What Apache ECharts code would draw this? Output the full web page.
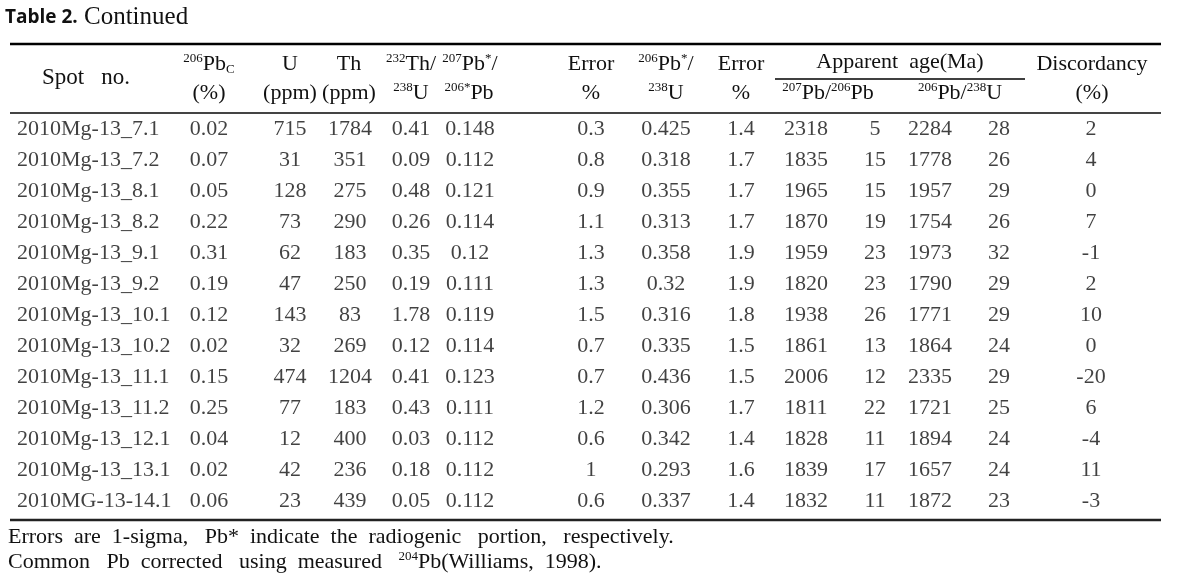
<!DOCTYPE html>
<html>
<head>
<meta charset="utf-8">
<script src="https://cdn.jsdelivr.net/npm/echarts@6/dist/echarts.min.js"></script>
<style>
html,body{margin:0;padding:0;background:#fff;}
#chart{width:1179px;height:583px;}
</style>
</head>
<body>
<div id="chart"></div>
<script>
// ---- data (cell contents) ----
const spots = ['2010Mg-13_7.1','2010Mg-13_7.2','2010Mg-13_8.1','2010Mg-13_8.2','2010Mg-13_9.1','2010Mg-13_9.2','2010Mg-13_10.1','2010Mg-13_10.2','2010Mg-13_11.1','2010Mg-13_11.2','2010Mg-13_12.1','2010Mg-13_13.1','2010MG-13-14.1'];
const pbC = [0.02,0.07,0.05,0.22,0.31,0.19,0.12,0.02,0.15,0.25,0.04,0.02,0.06];
const uPpm = [715,31,128,73,62,47,143,32,474,77,12,42,23];
const thPpm = [1784,351,275,290,183,250,83,269,1204,183,400,236,439];
const thU = [0.41,0.09,0.48,0.26,0.35,0.19,1.78,0.12,0.41,0.43,0.03,0.18,0.05];
const pb207_206 = [0.148,0.112,0.121,0.114,0.12,0.111,0.119,0.114,0.123,0.111,0.112,0.112,0.112];
const err207_206 = [0.3,0.8,0.9,1.1,1.3,1.3,1.5,0.7,0.7,1.2,0.6,1,0.6];
const pb206_238 = [0.425,0.318,0.355,0.313,0.358,0.32,0.316,0.335,0.436,0.306,0.342,0.293,0.337];
const err206_238 = [1.4,1.7,1.7,1.7,1.9,1.9,1.8,1.5,1.5,1.7,1.4,1.6,1.4];
const age207_206 = [2318,1835,1965,1870,1959,1820,1938,1861,2006,1811,1828,1839,1832];
const ageErr207_206 = [5,15,15,19,23,23,26,13,12,22,11,17,11];
const age206_238 = [2284,1778,1957,1754,1973,1790,1771,1864,2335,1721,1894,1657,1872];
const ageErr206_238 = [28,26,29,26,32,29,29,24,29,25,24,24,23];
const discordancy = [2,4,0,7,-1,2,10,0,-20,6,-4,11,-3];

const columns = [spots,pbC,uPpm,thPpm,thU,pb207_206,err207_206,pb206_238,err206_238,age207_206,ageErr207_206,age206_238,ageErr206_238,discordancy];

// ---- layout (column anchor positions along x, in page pixels) ----
const colX = [17,209,290,350,411,470,591,666,741,806,875,930,999,1091];

const SERIF = 'Liberation Serif';
const INK = '#111';
const FS = 22;

const series = columns.map((col, c) => ({
  type: 'scatter',
  symbolSize: 0,
  silent: true,
  animation: false,
  data: col.map((v, r) => ({ value: [colX[c], r], txt: String(v) })),
  label: {
    show: true,
    position: 'inside',
    align: c === 0 ? 'left' : 'center',
    verticalAlign: 'middle',
    fontFamily: SERIF,
    fontSize: FS,
    color: INK,
    formatter: p => p.data.txt
  }
}));

function makeRich(size) {
  return {
    sup: { fontFamily: SERIF, fontSize: 13, fill: INK, color: INK, verticalAlign: 'top', lineHeight: 24 },
    sub: { fontFamily: SERIF, fontSize: 13, fill: INK, color: INK, verticalAlign: 'bottom', lineHeight: 24 },
    n: { fontFamily: SERIF, fontSize: size, fill: INK, color: INK, lineHeight: 24 }
  };
}
function txt(x, y, s, opts) {
  opts = opts || {};
  const size = opts.size || FS;
  return {
    type: 'text', silent: true,
    style: {
      x: x, y: y, text: s, rich: makeRich(size),
      font: (opts.weight || 'normal') + ' ' + size + 'px ' + (opts.family || SERIF),
      fill: INK, align: opts.align || 'center', verticalAlign: 'middle'
    }
  };
}
function line(x1, y1, x2, y2, w, color) {
  return { type: 'line', silent: true, shape: { x1, y1, x2, y2 }, style: { stroke: color, lineWidth: w } };
}

const H1 = 64, H2 = 93;
const graphic = [
  txt(5, 18, 'Table 2.', { align: 'left', family: 'Open Sans', weight: 'bold', size: 19 }),
  txt(84, 17, 'Continued', { align: 'left', size: 25 }),
  line(10, 44, 1161, 44, 2.5, '#000'),
  line(775, 79, 1025, 79, 1.5, '#000'),
  line(10, 113, 1161, 113, 1.8, '#444'),
  line(10, 520, 1161, 520, 2.5, '#222'),
  txt(86, 78, 'Spot   no.', { size: 23 }),
  txt(209, H1, '{sup|206}{n|Pb}{sub|C}'),
  txt(209, H2, '(%)'),
  txt(290, H1, 'U'),
  txt(290, H2, '(ppm)'),
  txt(349, H1, 'Th'),
  txt(349, H2, '(ppm)'),
  txt(411, H1, '{sup|232}{n|Th/}'),
  txt(411, H2, '{sup|238}{n|U}'),
  txt(470, H1, '{sup|207}{n|Pb}{sup|*}{n|/}'),
  txt(469, H2, '{sup|206*}{n|Pb}'),
  txt(591, H1, 'Error'),
  txt(591, H2, '%'),
  txt(666, H1, '{sup|206}{n|Pb}{sup|*}{n|/}'),
  txt(666, H2, '{sup|238}{n|U}'),
  txt(741, H1, 'Error'),
  txt(741, H2, '%'),
  txt(900, 62, 'Apparent  age(Ma)'),
  txt(828, H2, '{sup|207}{n|Pb/}{sup|206}{n|Pb}'),
  txt(960, H2, '{sup|206}{n|Pb/}{sup|238}{n|U}'),
  txt(1092, H1, 'Discordancy'),
  txt(1092, H2, '(%)'),
  txt(8, 537, 'Errors  are  1-sigma,   Pb*  indicate  the  radiogenic   portion,   respectively.', { align: 'left', size: 22 }),
  txt(8, 562, '{n|Common   Pb  corrected   using  measured   }{sup|204}{n|Pb(Williams,  1998).}', { align: 'left', size: 22 })
];

const chart = echarts.init(document.getElementById('chart'), null, { renderer: 'canvas' });
chart.setOption({
  animation: false,
  backgroundColor: '#fff',
  grid: { left: 0, right: 0, top: 113.5, bottom: 66.5, containLabel: false },
  xAxis: { type: 'value', min: 0, max: 1179, show: false },
  yAxis: { type: 'category', data: spots, inverse: true, show: false },
  series: series,
  graphic: graphic
});
</script>
</body>
</html>
